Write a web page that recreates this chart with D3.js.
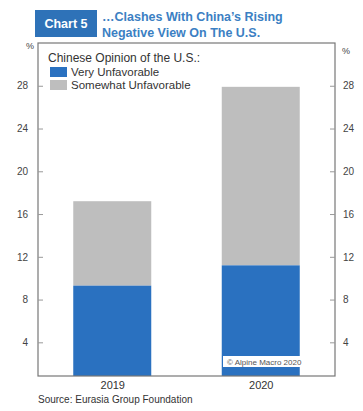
<!DOCTYPE html>
<html><head><meta charset="utf-8">
<script src="https://cdn.jsdelivr.net/npm/d3@7"></script>
<style>body{margin:0;background:#fff}svg{display:block;font-family:"Liberation Sans",Arial,sans-serif}</style>
</head><body><svg id="c" width="363" height="411"></svg>
<script>
const categories = ["2019", "2020"];
const veryUnfavorable = [9.3, 11.2];
const somewhatUnfavorable = [7.9, 16.7];
const yTicks = [4, 8, 12, 16, 20, 24, 28];
const seriesNames = ["Very Unfavorable", "Somewhat Unfavorable"];
const colors = ["#2a71c0", "#bebebe"];

const svg = d3.select("#c");
const L = 38, R = 335, T = 43, B = 376;
const y = d3.scaleLinear().domain([0.85, 32]).range([B, T]);
const x = d3.scalePoint().domain(categories).range([L, R]).padding(0.5);

// Title
svg.append("rect").attr("x", 35).attr("y", 10).attr("width", 62).attr("height", 27).attr("fill", "#2e72b8");
svg.append("text").attr("x", 66).attr("y", 28).attr("text-anchor", "middle").attr("fill", "#fff")
  .attr("font-size", 12.5).attr("font-weight", "bold").text("Chart 5");
svg.append("text").attr("x", 102).attr("y", 21).attr("fill", "#3b80c3").attr("font-size", 12.5).attr("font-weight", "bold")
  .text("…Clashes With China’s Rising");
svg.append("text").attr("x", 102).attr("y", 37).attr("fill", "#3b80c3").attr("font-size", 12.5).attr("font-weight", "bold")
  .text("Negative View On The U.S.");

// Bars
const stack = categories.map((c, i) => ({c, v: veryUnfavorable[i], s: somewhatUnfavorable[i]}));
const bw = 78;
svg.append("g").selectAll("rect.s").data(stack).join("rect")
  .attr("x", d => x(d.c) - bw/2).attr("width", bw)
  .attr("y", d => y(d.v + d.s)).attr("height", d => y(d.v) - y(d.v + d.s)).attr("fill", colors[1]);
svg.append("g").selectAll("rect.v").data(stack).join("rect")
  .attr("x", d => x(d.c) - bw/2).attr("width", bw)
  .attr("y", d => y(d.v)).attr("height", d => B - y(d.v)).attr("fill", colors[0]);

// Frame
svg.append("rect").attr("x", L).attr("y", T).attr("width", R - L).attr("height", B - T)
  .attr("fill", "none").attr("stroke", "#777").attr("stroke-width", 1.2);

// Axes
const yl = svg.append("g").attr("transform", `translate(${L},0)`)
  .call(d3.axisRight(y).tickValues(yTicks).tickSize(5).tickFormat(d3.format("d")));
yl.select(".domain").remove();
yl.selectAll("line").attr("stroke", "#999");
yl.selectAll("text").attr("x", -10).attr("text-anchor", "end").attr("fill", "#444").attr("font-size", 10);
const yr = svg.append("g").attr("transform", `translate(${R},0)`)
  .call(d3.axisLeft(y).tickValues(yTicks).tickSize(5).tickFormat(d3.format("d")));
yr.select(".domain").remove();
yr.selectAll("line").attr("stroke", "#999");
yr.selectAll("text").attr("x", 8).attr("text-anchor", "start").attr("fill", "#444").attr("font-size", 10);
svg.append("text").attr("x", 26).attr("y", 49).attr("font-size", 9).attr("fill", "#444").text("%");
svg.append("text").attr("x", 342).attr("y", 54).attr("font-size", 9).attr("fill", "#444").text("%");

const xa = svg.append("g").attr("transform", `translate(0,${B})`).call(d3.axisBottom(x).tickSize(0));
xa.select(".domain").remove();
xa.selectAll("text").attr("dy", "0.71em").attr("y", 5).attr("fill", "#333").attr("font-size", 11);

// Legend
svg.append("text").attr("x", 48).attr("y", 62).attr("font-size", 12).attr("fill", "#333").text("Chinese Opinion of the U.S.:");
seriesNames.forEach((n, i) => {
  svg.append("rect").attr("x", 50).attr("y", 67 + i*13).attr("width", 17).attr("height", 10).attr("fill", colors[i]);
  svg.append("text").attr("x", 71).attr("y", 76 + i*13).attr("font-size", 11.5).attr("fill", "#333").text(n);
});

// Copyright
svg.append("rect").attr("x", 223).attr("y", 356).attr("width", 95).attr("height", 11).attr("fill", "#fff");
svg.append("text").attr("x", 227).attr("y", 365).attr("font-size", 8).attr("fill", "#555").text("© Alpine Macro 2020");

// Source
svg.append("text").attr("x", 38).attr("y", 403).attr("font-size", 10).attr("fill", "#333").text("Source: Eurasia Group Foundation");
</script></body></html>
